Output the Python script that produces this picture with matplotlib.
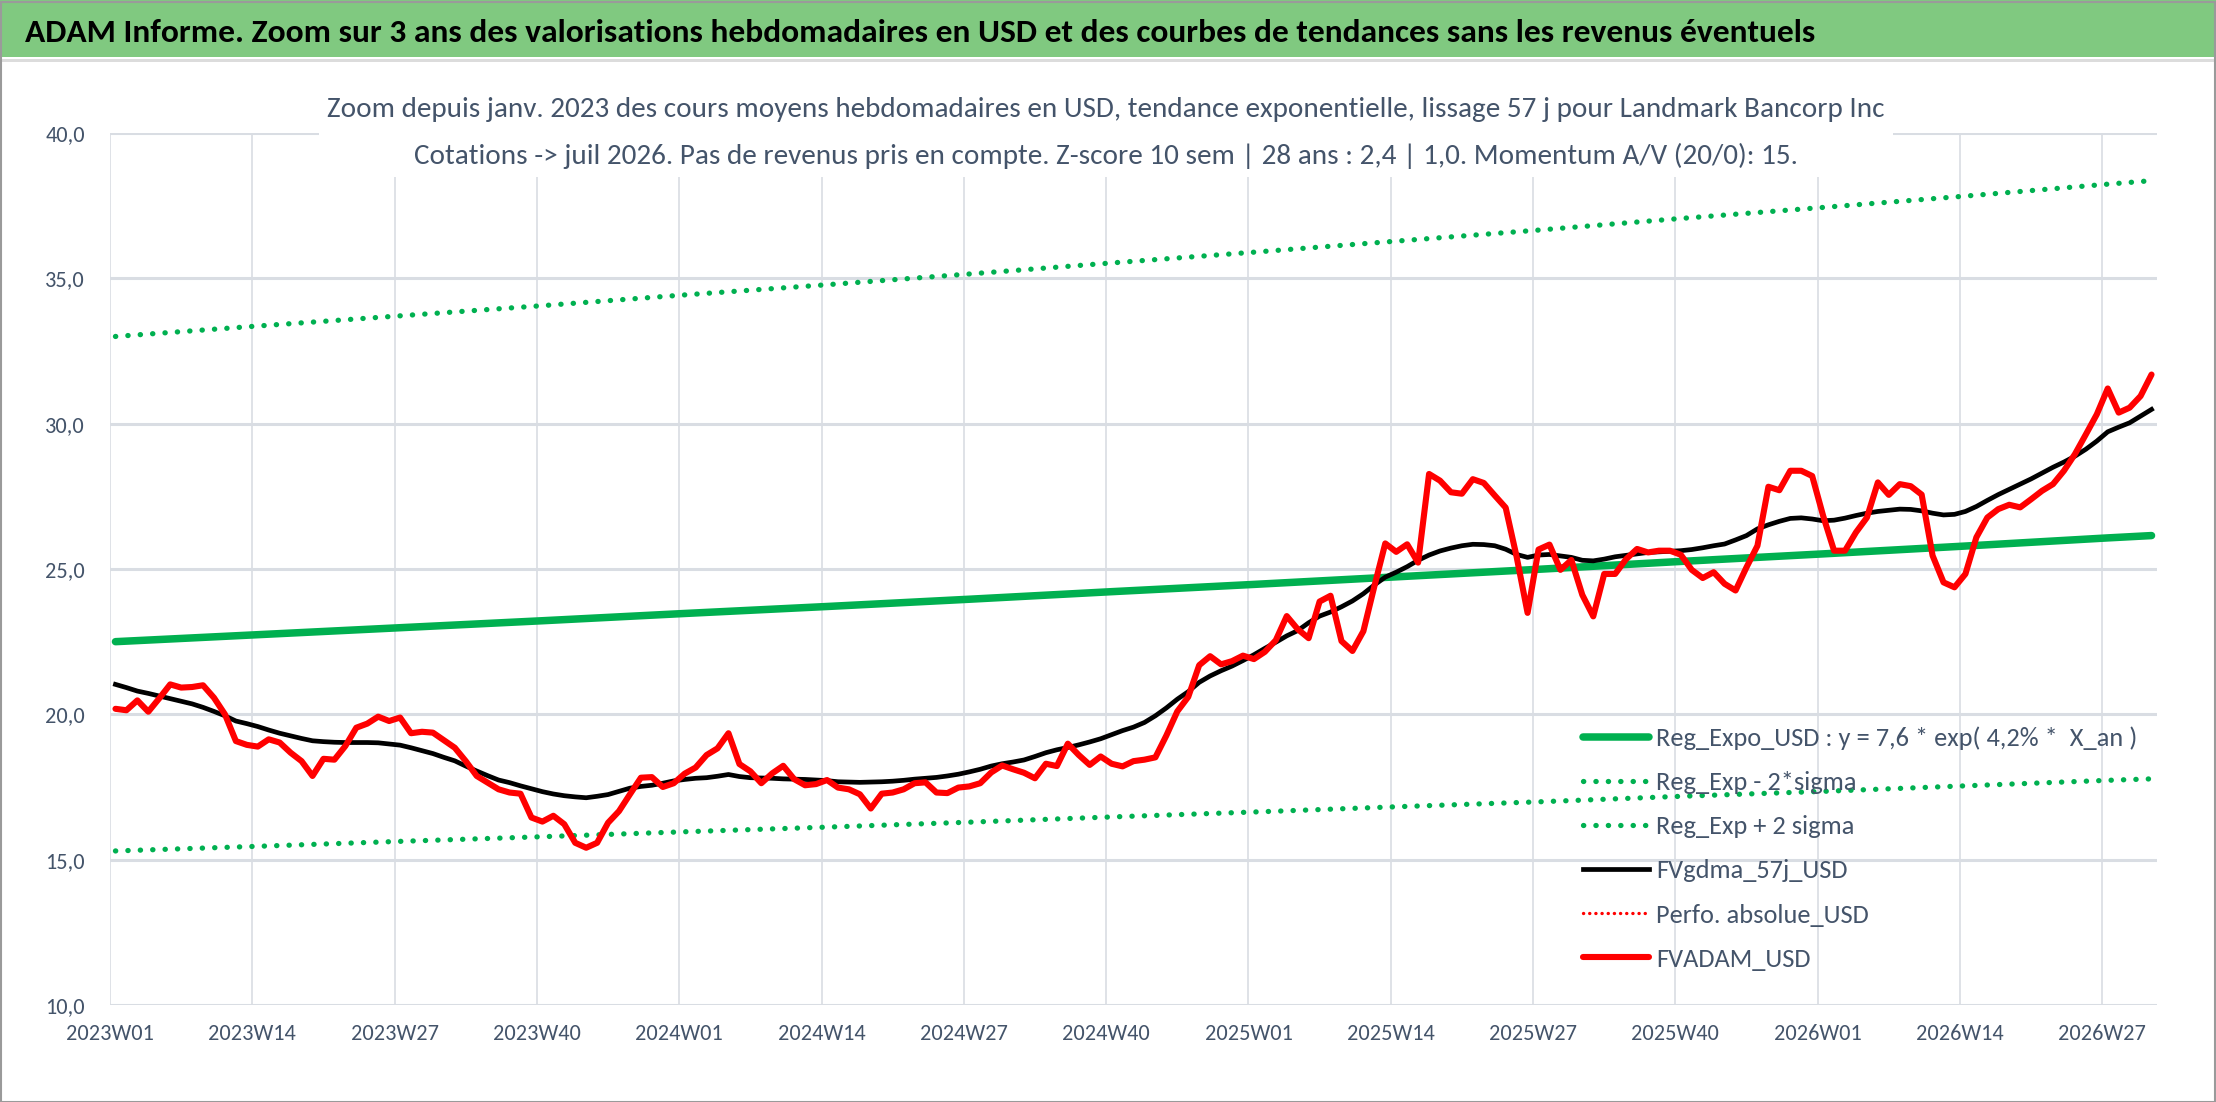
import numpy as np
import matplotlib
matplotlib.use('Agg')
import matplotlib.pyplot as plt
from matplotlib import font_manager
from matplotlib.patches import Rectangle

# pick a narrow sans font close to Calibri
available = set(font_manager.get_font_names())
family = 'DejaVu Sans'
for f in ['Carlito', 'Liberation Sans Narrow', 'Open Sans', 'Roboto']:
    if f in available:
        family = f
        break
plt.rcParams['font.family'] = [family, 'DejaVu Sans']

# weekly data, 2023W01 .. 2026W31
fvadam_usd = [
    20.19, 20.14, 20.48, 20.09, 20.55, 21.03, 20.92, 20.94, 21.00, 20.57,
    20.00, 19.08, 18.95, 18.89, 19.14, 19.03, 18.68, 18.39, 17.88, 18.47,
    18.44, 18.91, 19.54, 19.68, 19.92, 19.77, 19.89, 19.35, 19.40, 19.37,
    19.11, 18.85, 18.39, 17.88, 17.65, 17.42, 17.31, 17.27, 16.45, 16.31,
    16.51, 16.22, 15.58, 15.41, 15.58, 16.27, 16.67, 17.25, 17.82, 17.84,
    17.50, 17.63, 17.96, 18.17, 18.60, 18.83, 19.35, 18.29, 18.04, 17.63,
    17.97, 18.23, 17.77, 17.56, 17.60, 17.74, 17.48, 17.42, 17.25, 16.76,
    17.27, 17.31, 17.42, 17.63, 17.66, 17.31, 17.29, 17.48, 17.52, 17.63,
    18.00, 18.24, 18.11, 17.99, 17.80, 18.30, 18.22, 18.99, 18.60, 18.26,
    18.55, 18.30, 18.21, 18.39, 18.44, 18.52, 19.27, 20.10, 20.60, 21.69,
    22.00, 21.72, 21.83, 22.02, 21.90, 22.15, 22.55, 23.38, 22.93, 22.62,
    23.88, 24.08, 22.52, 22.18, 22.86, 24.40, 25.88, 25.59, 25.85, 25.22,
    28.27, 28.04, 27.64, 27.59, 28.09, 27.96, 27.53, 27.11, 25.42, 23.49,
    25.67, 25.84, 24.97, 25.31, 24.11, 23.37, 24.83, 24.83, 25.34, 25.69,
    25.57, 25.63, 25.63, 25.49, 24.97, 24.69, 24.89, 24.49, 24.26, 25.06,
    25.80, 27.83, 27.71, 28.38, 28.38, 28.20, 26.83, 25.63, 25.63, 26.26,
    26.77, 27.98, 27.55, 27.92, 27.85, 27.56, 25.46, 24.54, 24.37, 24.83,
    26.09, 26.77, 27.06, 27.21, 27.12, 27.40, 27.69, 27.92, 28.38, 28.95,
    29.63, 30.32, 31.21, 30.38, 30.55, 30.95, 31.69,
]

fvgdma_57j_usd = [
    21.03, 20.92, 20.80, 20.72, 20.63, 20.54, 20.45, 20.36, 20.24, 20.10,
    19.95, 19.77, 19.68, 19.58, 19.46, 19.35, 19.26, 19.17, 19.09, 19.06,
    19.04, 19.03, 19.03, 19.03, 19.02, 18.98, 18.94, 18.85, 18.75, 18.65,
    18.52, 18.40, 18.22, 18.05, 17.89, 17.74, 17.65, 17.54, 17.44, 17.34,
    17.26, 17.20, 17.16, 17.13, 17.18, 17.24, 17.35, 17.46, 17.52, 17.56,
    17.63, 17.71, 17.76, 17.80, 17.82, 17.87, 17.93, 17.86, 17.82, 17.81,
    17.80, 17.78, 17.77, 17.76, 17.74, 17.72, 17.68, 17.67, 17.66, 17.67,
    17.68, 17.70, 17.73, 17.77, 17.80, 17.83, 17.88, 17.94, 18.02, 18.11,
    18.22, 18.30, 18.36, 18.43, 18.55, 18.68, 18.78, 18.86, 18.95, 19.05,
    19.16, 19.30, 19.44, 19.56, 19.72, 19.95, 20.22, 20.52, 20.78, 21.10,
    21.32, 21.50, 21.66, 21.85, 22.05, 22.27, 22.48, 22.70, 22.88, 23.15,
    23.38, 23.52, 23.70, 23.90, 24.15, 24.45, 24.72, 24.89, 25.08, 25.30,
    25.48, 25.62, 25.72, 25.80, 25.85, 25.84, 25.80, 25.68, 25.50, 25.40,
    25.48, 25.50, 25.45, 25.40, 25.30, 25.28, 25.34, 25.42, 25.47, 25.52,
    25.57, 25.59, 25.61, 25.63, 25.67, 25.73, 25.80, 25.86, 26.00, 26.15,
    26.38, 26.52, 26.64, 26.74, 26.76, 26.72, 26.66, 26.68, 26.75, 26.84,
    26.92, 26.98, 27.02, 27.06, 27.05, 27.00, 26.92, 26.86, 26.88, 26.98,
    27.15, 27.36, 27.56, 27.74, 27.92, 28.10, 28.30, 28.50, 28.68, 28.88,
    29.12, 29.40, 29.72, 29.88, 30.03, 30.26, 30.49,
]

# regression lines read at the labelled weeks (+ last week)
trend_weeks = [0, 13, 26, 39, 52, 65, 78, 91, 104, 117, 130, 143, 156, 169, 182, 186]
reg_expo_usd = [22.50, 22.74, 22.98, 23.22, 23.47, 23.71, 23.96, 24.22,
                24.47, 24.73, 24.99, 25.26, 25.52, 25.79, 26.07, 26.15]
reg_exp_minus = [15.30, 15.46, 15.63, 15.79, 15.96, 16.12, 16.29, 16.47,
                 16.64, 16.82, 16.99, 17.18, 17.35, 17.54, 17.73, 17.78]
reg_exp_plus = [33.00, 33.36, 33.71, 34.06, 34.43, 34.78, 35.15, 35.53,
                35.90, 36.28, 36.66, 37.06, 37.44, 37.83, 38.24, 38.36]

tick_labels = ['2023W01', '2023W14', '2023W27', '2023W40', '2024W01', '2024W14',
               '2024W27', '2024W40', '2025W01', '2025W14', '2025W27', '2025W40',
               '2026W01', '2026W14', '2026W27']

title = ("ADAM Informe. Zoom sur 3 ans des valorisations hebdomadaires en USD "
         "et des courbes de tendances sans les revenus éventuels")
subtitle = ("Zoom depuis janv. 2023 des cours moyens hebdomadaires en USD, tendance "
            "exponentielle, lissage 57 j pour Landmark Bancorp Inc\n"
            "Cotations -> juil 2026. Pas de revenus pris en compte. Z-score 10 sem "
            "| 28 ans : 2,4 | 1,0. Momentum A/V (20/0): 15.")

text_col = '#44546A'
grid_col = '#D9DDE3'
green = '#00B050'

W, H = 2216, 1102
fig = plt.figure(figsize=(W / 100, H / 100), dpi=100)

# banner
fig.patches.append(Rectangle((0, 1 - 57 / H), 1, 57 / H, transform=fig.transFigure,
                             facecolor='#80C980', edgecolor='none', zorder=0))
fig.patches.append(Rectangle((0, 1 - 62 / H), 1, 3 / H, transform=fig.transFigure,
                             facecolor='#DCDCDC', edgecolor='none', zorder=0))
fig.patches.append(Rectangle((0.5 / W, 0.5 / H), 1 - 2 / W, 1 - 2 / H,
                             transform=fig.transFigure, facecolor='none',
                             edgecolor='#9A9A9A', linewidth=1.5, zorder=10))
fig.text(25 / W, 1 - 33 / H, title, fontsize=24.1, fontweight='bold', color='black',
         ha='left', va='center')

ax = fig.add_axes([110 / W, 1 - 1005 / H, 2047 / W, 872 / H])

x = np.arange(len(fvadam_usd)) + 0.5
xt = np.array(trend_weeks) + 0.5

dot = (0, (0.05, 2.3))
ax.plot(xt, reg_expo_usd, color=green, lw=5.4, solid_capstyle='round',
        label='Reg_Expo_USD : y = 7,6 * exp( 4,2% *  X_an )', zorder=3)
ax.plot(xt, reg_exp_minus, color=green, lw=3.8, linestyle=dot, dash_capstyle='round',
        label='Reg_Exp - 2*sigma', zorder=3)
ax.plot(xt, reg_exp_plus, color=green, lw=3.8, linestyle=dot, dash_capstyle='round',
        label='Reg_Exp + 2 sigma', zorder=3)
ax.plot(x, fvgdma_57j_usd, color='black', lw=3.4, solid_joinstyle='round',
        label='FVgdma_57j_USD', zorder=4)
ax.plot([], [], color='#FF0000', lw=2.4, linestyle=(0, (0.05, 1.8)),
        dash_capstyle='round', label='Perfo. absolue_USD')
ax.plot(x, fvadam_usd, color='#FF0000', lw=4.4, solid_joinstyle='round',
        solid_capstyle='round', label='FVADAM_USD', zorder=5)

ax.set_xlim(0, 187)
ax.set_ylim(10, 40)
ax.set_yticks(np.arange(10, 41, 5))
ax.set_yticklabels([f'{v:.1f}'.replace('.', ',') for v in np.arange(10, 41, 5)])
ax.set_xticks(np.arange(len(tick_labels)) * 13)
ax.set_xticklabels(tick_labels)
ax.tick_params(axis='both', length=0, labelsize=16, labelcolor=text_col)
ax.tick_params(axis='y', pad=18)
ax.tick_params(axis='x', pad=14)
for s in ax.spines.values():
    s.set_visible(False)
ax.grid(axis='y', color=grid_col, lw=2.2)
ax.grid(axis='x', color=grid_col, lw=1.2)
ax.set_axisbelow(True)

fig.text(0.499, 1 - 133 / H, subtitle, fontsize=21, color=text_col, ha='center',
         va='center', multialignment='center', linespacing=1.95, zorder=6,
         bbox=dict(facecolor='white', edgecolor='none', pad=6))

ax.legend(loc='upper left', bbox_to_anchor=((1572 - 110) / 2047, (1005 - 716) / 872),
          frameon=False, fontsize=19, labelcolor=text_col, handlelength=2.5,
          handletextpad=0.3, labelspacing=0.8, borderaxespad=0)

fig.savefig('out.png', dpi=100)
